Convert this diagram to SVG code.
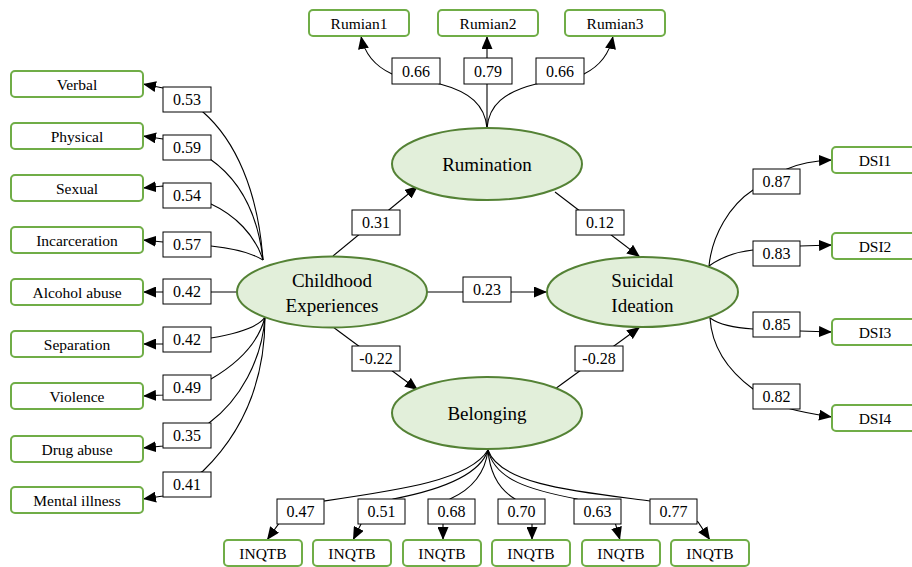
<svg xmlns="http://www.w3.org/2000/svg" width="912" height="567" viewBox="0 0 912 567">
<style>
.bg{fill:#ffffff}
.obs{fill:#ffffff;stroke:#70ad47;stroke-width:2}
.lat{fill:#e2efda;stroke:#548235;stroke-width:2}
.lbl{fill:#ffffff;stroke:#000000;stroke-width:1}
.edge{fill:none;stroke:#000000;stroke-width:1.1;marker-end:url(#arr)}
.t{font-family:"Liberation Serif","Times New Roman",serif;font-size:15.5px;fill:#000;text-anchor:middle}
.n{font-family:"Liberation Serif","Times New Roman",serif;font-size:16px;fill:#000;text-anchor:middle}
.big{font-family:"Liberation Serif","Times New Roman",serif;font-size:19px;fill:#000;text-anchor:middle}
</style>
<defs>
<marker id="arr" markerUnits="userSpaceOnUse" markerWidth="13" markerHeight="11" refX="13" refY="5.5" orient="auto">
<path d="M0,0 L13,5.5 L0,11 z" fill="#000"/>
</marker>
</defs>
<rect class="bg" x="0" y="0" width="912" height="567"/>

<g id="connectors">
<!-- Childhood Experiences indicators -->
<path class="edge" d="M263,260 C258,190 235,140 203,112 L163,88 L143,84"/>
<path class="edge" d="M263,260 C258,215 240,180 210,159 L163,139 L143,136"/>
<path class="edge" d="M263,260 C255,235 235,215 211,204 L163,186 L143,188"/>
<path class="edge" d="M263,260 C250,252 230,248 211,246 L163,242 L143,240"/>
<path class="edge" d="M237,292 L143,292"/>
<path class="edge" d="M265,317 C258,328 235,334 211,338 L163,344 L143,344"/>
<path class="edge" d="M265,317 C258,345 235,365 211,379 L163,395 L143,396"/>
<path class="edge" d="M265,317 C262,360 240,400 209,423 L163,446 L143,448"/>
<path class="edge" d="M265,317 C265,380 245,430 203,471 L163,496 L143,499"/>
<!-- Rumination indicators -->
<path class="edge" d="M487,128 C485,105 470,92 440,84 L392,74 Q366,62 361,36"/>
<path class="edge" d="M487,128 L487,36"/>
<path class="edge" d="M487,128 C489,105 504,92 536,84 L584,74 Q608,62 613,36"/>
<!-- Suicidal Ideation indicators -->
<path class="edge" d="M709,266 C712,235 730,205 753,190 L787,169 Q805,161 832,160"/>
<path class="edge" d="M709,266 C720,258 735,252 753,250 L800,246 L832,245"/>
<path class="edge" d="M710,318 C720,325 735,328 753,329 L800,331 L832,332"/>
<path class="edge" d="M710,318 C712,350 730,372 753,389 L787,408 Q805,413 832,417"/>
<!-- Belonging indicators -->
<path class="edge" d="M488,450 C470,480 400,490 324,501 L280,522 L267,540"/>
<path class="edge" d="M488,450 C480,475 440,490 393,499 L362,522 L353,540"/>
<path class="edge" d="M488,450 C485,475 470,490 450,499 L443,522 L443,540"/>
<path class="edge" d="M488,450 C490,475 500,490 515,499 L532,522 L532,540"/>
<path class="edge" d="M488,450 C495,480 530,490 577,499 L615,522 L620,540"/>
<path class="edge" d="M488,450 C500,485 580,492 650,501 L698,522 L710,540"/>
<!-- Structural paths -->
<path class="edge" d="M333,256 L418,186"/>
<path class="edge" d="M555,192 L640,257"/>
<path class="edge" d="M427,292 L547,292"/>
<path class="edge" d="M333,327 L418,390"/>
<path class="edge" d="M555,389 L640,327"/>
</g>

<g id="labels">
<rect class="lbl" x="163" y="87" width="48" height="25"/><text class="n" x="187" y="105">0.53</text>
<rect class="lbl" x="163" y="135" width="48" height="25"/><text class="n" x="187" y="153">0.59</text>
<rect class="lbl" x="163" y="183" width="48" height="25"/><text class="n" x="187" y="201">0.54</text>
<rect class="lbl" x="163" y="232" width="48" height="25"/><text class="n" x="187" y="250">0.57</text>
<rect class="lbl" x="163" y="279" width="48" height="25"/><text class="n" x="187" y="297">0.42</text>
<rect class="lbl" x="163" y="327" width="48" height="25"/><text class="n" x="187" y="345">0.42</text>
<rect class="lbl" x="163" y="375" width="48" height="25"/><text class="n" x="187" y="393">0.49</text>
<rect class="lbl" x="163" y="423" width="48" height="25"/><text class="n" x="187" y="441">0.35</text>
<rect class="lbl" x="163" y="472" width="48" height="25"/><text class="n" x="187" y="490">0.41</text>

<rect class="lbl" x="392" y="58" width="48" height="26"/><text class="n" x="416" y="77">0.66</text>
<rect class="lbl" x="464" y="58" width="48" height="26"/><text class="n" x="488" y="77">0.79</text>
<rect class="lbl" x="536" y="58" width="48" height="26"/><text class="n" x="560" y="77">0.66</text>

<rect class="lbl" x="753" y="169" width="47" height="25"/><text class="n" x="776.5" y="187">0.87</text>
<rect class="lbl" x="753" y="241" width="47" height="25"/><text class="n" x="776.5" y="259">0.83</text>
<rect class="lbl" x="753" y="312" width="47" height="25"/><text class="n" x="776.5" y="330">0.85</text>
<rect class="lbl" x="753" y="384" width="47" height="25"/><text class="n" x="776.5" y="402">0.82</text>

<rect class="lbl" x="277" y="499" width="47" height="25"/><text class="n" x="300.5" y="517">0.47</text>
<rect class="lbl" x="358" y="499" width="47" height="25"/><text class="n" x="381.5" y="517">0.51</text>
<rect class="lbl" x="428" y="499" width="47" height="25"/><text class="n" x="451.5" y="517">0.68</text>
<rect class="lbl" x="498" y="499" width="47" height="25"/><text class="n" x="521.5" y="517">0.70</text>
<rect class="lbl" x="574" y="499" width="47" height="25"/><text class="n" x="597.5" y="517">0.63</text>
<rect class="lbl" x="650" y="499" width="47" height="25"/><text class="n" x="673.5" y="517">0.77</text>

<rect class="lbl" x="352" y="210" width="48" height="25"/><text class="n" x="376" y="228">0.31</text>
<rect class="lbl" x="576" y="210" width="48" height="25"/><text class="n" x="600" y="228">0.12</text>
<rect class="lbl" x="463" y="277" width="48" height="25"/><text class="n" x="487" y="295">0.23</text>
<rect class="lbl" x="352" y="346" width="48" height="25"/><text class="n" x="376" y="364">-0.22</text>
<rect class="lbl" x="575" y="346" width="48" height="25"/><text class="n" x="599" y="364">-0.28</text>
</g>

<g id="childhood">
<ellipse class="lat" cx="332" cy="292" rx="95" ry="35.5"/>
<text class="big" x="332" y="287">Childhood</text>
<text class="big" x="332" y="312">Experiences</text>
</g>
<g id="rumination">
<ellipse class="lat" cx="487" cy="164" rx="95" ry="36"/>
<text class="big" x="487" y="171">Rumination</text>
</g>
<g id="suicidal">
<ellipse class="lat" cx="642.5" cy="292" rx="95.5" ry="35"/>
<text class="big" x="642.5" y="287">Suicidal</text>
<text class="big" x="642.5" y="312">Ideation</text>
</g>
<g id="belonging">
<ellipse class="lat" cx="487" cy="413" rx="95" ry="36"/>
<text class="big" x="487" y="420">Belonging</text>
</g>

<g id="verbal"><rect class="obs" x="11" y="71" width="132" height="26" rx="4"/><text class="t" x="77" y="90">Verbal</text></g>
<g id="physical"><rect class="obs" x="11" y="123" width="132" height="26" rx="4"/><text class="t" x="77" y="142">Physical</text></g>
<g id="sexual"><rect class="obs" x="11" y="175" width="132" height="26" rx="4"/><text class="t" x="77" y="194">Sexual</text></g>
<g id="incarceration"><rect class="obs" x="11" y="227" width="132" height="26" rx="4"/><text class="t" x="77" y="246">Incarceration</text></g>
<g id="alcohol"><rect class="obs" x="11" y="279" width="132" height="26" rx="4"/><text class="t" x="77" y="298">Alcohol abuse</text></g>
<g id="separation"><rect class="obs" x="11" y="331" width="132" height="26" rx="4"/><text class="t" x="77" y="350">Separation</text></g>
<g id="violence"><rect class="obs" x="11" y="383" width="132" height="26" rx="4"/><text class="t" x="77" y="402">Violence</text></g>
<g id="drug"><rect class="obs" x="11" y="436" width="132" height="26" rx="4"/><text class="t" x="77" y="455">Drug abuse</text></g>
<g id="mental"><rect class="obs" x="11" y="487" width="132" height="26" rx="4"/><text class="t" x="77" y="506">Mental illness</text></g>

<g id="rumian1"><rect class="obs" x="309" y="10" width="100" height="26" rx="4"/><text class="t" x="359" y="29">Rumian1</text></g>
<g id="rumian2"><rect class="obs" x="438" y="10" width="100" height="26" rx="4"/><text class="t" x="488" y="29">Rumian2</text></g>
<g id="rumian3"><rect class="obs" x="565" y="10" width="100" height="26" rx="4"/><text class="t" x="615" y="29">Rumian3</text></g>

<g id="dsi1"><rect class="obs" x="832" y="147" width="90" height="26" rx="4"/><text class="t" x="875" y="166">DSI1</text></g>
<g id="dsi2"><rect class="obs" x="832" y="233" width="90" height="26" rx="4"/><text class="t" x="875" y="252">DSI2</text></g>
<g id="dsi3"><rect class="obs" x="832" y="319" width="90" height="26" rx="4"/><text class="t" x="875" y="338">DSI3</text></g>
<g id="dsi4"><rect class="obs" x="832" y="405" width="90" height="26" rx="4"/><text class="t" x="875" y="424">DSI4</text></g>

<g id="inqtb1"><rect class="obs" x="224" y="540" width="78" height="26" rx="4"/><text class="t" x="263" y="559">INQTB</text></g>
<g id="inqtb2"><rect class="obs" x="313" y="540" width="78" height="26" rx="4"/><text class="t" x="352" y="559">INQTB</text></g>
<g id="inqtb3"><rect class="obs" x="403" y="540" width="78" height="26" rx="4"/><text class="t" x="442" y="559">INQTB</text></g>
<g id="inqtb4"><rect class="obs" x="492" y="540" width="78" height="26" rx="4"/><text class="t" x="531" y="559">INQTB</text></g>
<g id="inqtb5"><rect class="obs" x="582" y="540" width="78" height="26" rx="4"/><text class="t" x="621" y="559">INQTB</text></g>
<g id="inqtb6"><rect class="obs" x="671" y="540" width="78" height="26" rx="4"/><text class="t" x="710" y="559">INQTB</text></g>
</svg>
